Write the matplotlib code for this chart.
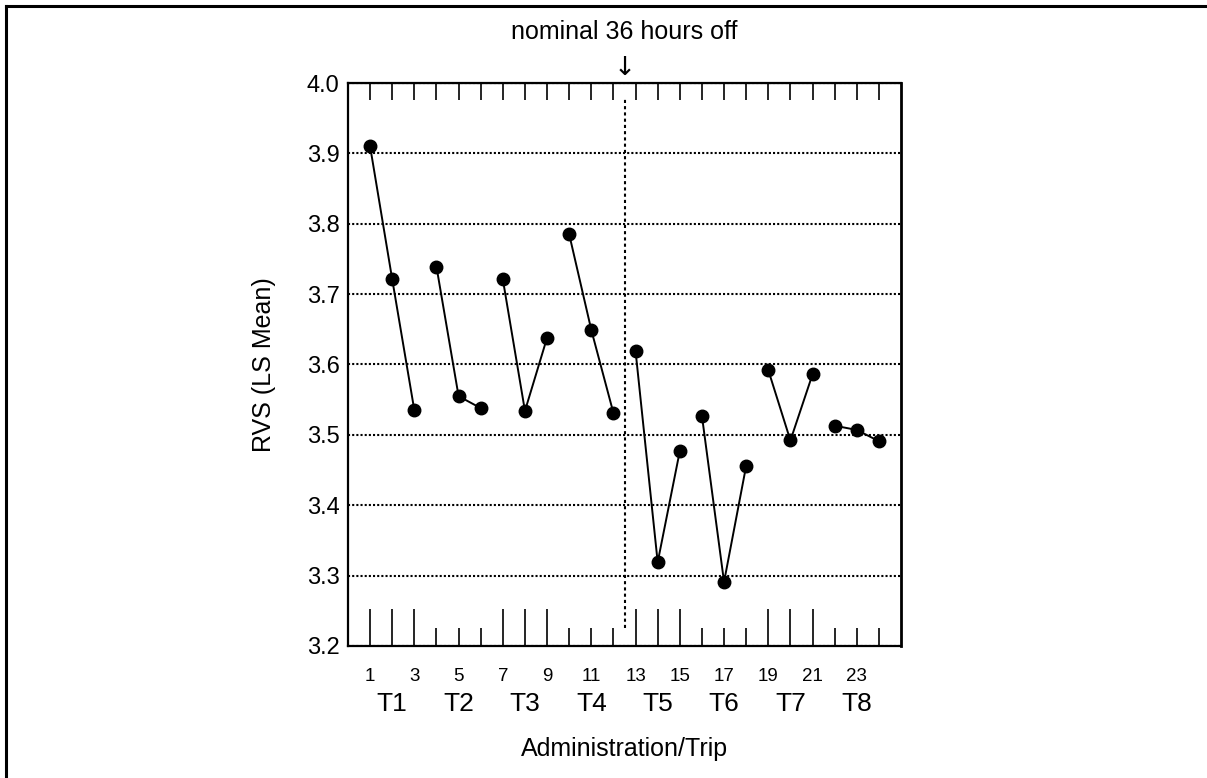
import matplotlib
matplotlib.use('Agg')
import matplotlib.pyplot as plt
from matplotlib.lines import Line2D

plt.rcParams['font.family'] = ['Liberation Sans', 'DejaVu Sans']

# RVS least-squares means per administration, three administrations per trip
admin = list(range(1, 25))
rvs = [3.910, 3.721, 3.535,
       3.739, 3.555, 3.538,
       3.721, 3.534, 3.638,
       3.785, 3.649, 3.531,
       3.619, 3.319, 3.477,
       3.527, 3.291, 3.456,
       3.592, 3.492, 3.586,
       3.513, 3.507, 3.491]
trips = ['T1', 'T2', 'T3', 'T4', 'T5', 'T6', 'T7', 'T8']
per_trip = 3
y_ticks = [3.2, 3.3, 3.4, 3.5, 3.6, 3.7, 3.8, 3.9, 4.0]
break_at = 12.5  # nominal 36 hours off

fig = plt.figure(figsize=(12.07, 7.78), dpi=100)
ax = fig.add_axes([0.2883, 0.1697, 0.4582, 0.7236])

# one connected line per trip
for i in range(len(trips)):
    xs = admin[i * per_trip:(i + 1) * per_trip]
    ys = rvs[i * per_trip:(i + 1) * per_trip]
    ax.plot(xs, ys, color='black', lw=1.4, marker='o', markersize=9, zorder=3)

ax.set_xlim(0, 25)
ax.set_ylim(3.2, 4.0)
ax.set_yticks(y_ticks, ['%.1f' % v for v in y_ticks])
ax.tick_params(axis='y', length=0, pad=6, labelsize=17)
ax.grid(axis='y', color='black', lw=1.5, linestyle=(0, (1, 1)))
ax.set_axisbelow(True)

for s in ax.spines.values():
    s.set_linewidth(1.6)
ax.spines['right'].set_linewidth(2.0)

# bottom ticks: long for odd trips, short for even trips
long_t = [a for a in admin if ((a - 1) // per_trip) % 2 == 0]
short_t = [a for a in admin if ((a - 1) // per_trip) % 2 == 1]
ax.set_xticks(long_t, [''] * len(long_t))
ax.set_xticks(short_t, [''] * len(short_t), minor=True)
ax.tick_params(axis='x', which='major', direction='in', length=27, width=1.2)
ax.tick_params(axis='x', which='minor', direction='in', length=13, width=1.2)

top = ax.secondary_xaxis('top')
top.set_xticks(admin, [''] * len(admin))
top.tick_params(direction='in', length=12, width=1.2)

nums = ax.secondary_xaxis('bottom')
nums.set_xticks(admin[::2], [str(a) for a in admin[::2]])
nums.tick_params(length=0, pad=16, labelsize=13.5)
nums.spines['bottom'].set_visible(False)

trip_ax = ax.secondary_xaxis('bottom')
trip_ax.set_xticks(admin[1::per_trip], trips)
trip_ax.tick_params(length=0, pad=33, labelsize=19)
trip_ax.spines['bottom'].set_visible(False)
trip_ax.set_xlabel('Administration/Trip', fontsize=18, labelpad=15)

ax.set_ylabel('RVS (LS Mean)', fontsize=18, labelpad=22)

# break marker
ax.vlines(break_at, 3.225, 3.98, color='black', lw=1.5, linestyles=[(0, (1.5, 1.5))])
ax.text(break_at, 1.026, '\u2193', transform=ax.get_xaxis_transform(),
        ha='center', va='center', fontsize=19, family=['Noto Sans', 'DejaVu Sans'])
ax.text(break_at, 1.078, 'nominal 36 hours off', transform=ax.get_xaxis_transform(),
        ha='center', va='baseline', fontsize=18)

# outer frame (top and left edges)
fig.add_artist(Line2D([0.005, 1.0], [0.992, 0.992], color='black', lw=2.2))
fig.add_artist(Line2D([0.005, 0.005], [0.0, 0.992], color='black', lw=2.2))

fig.savefig('out.png', dpi=100)
